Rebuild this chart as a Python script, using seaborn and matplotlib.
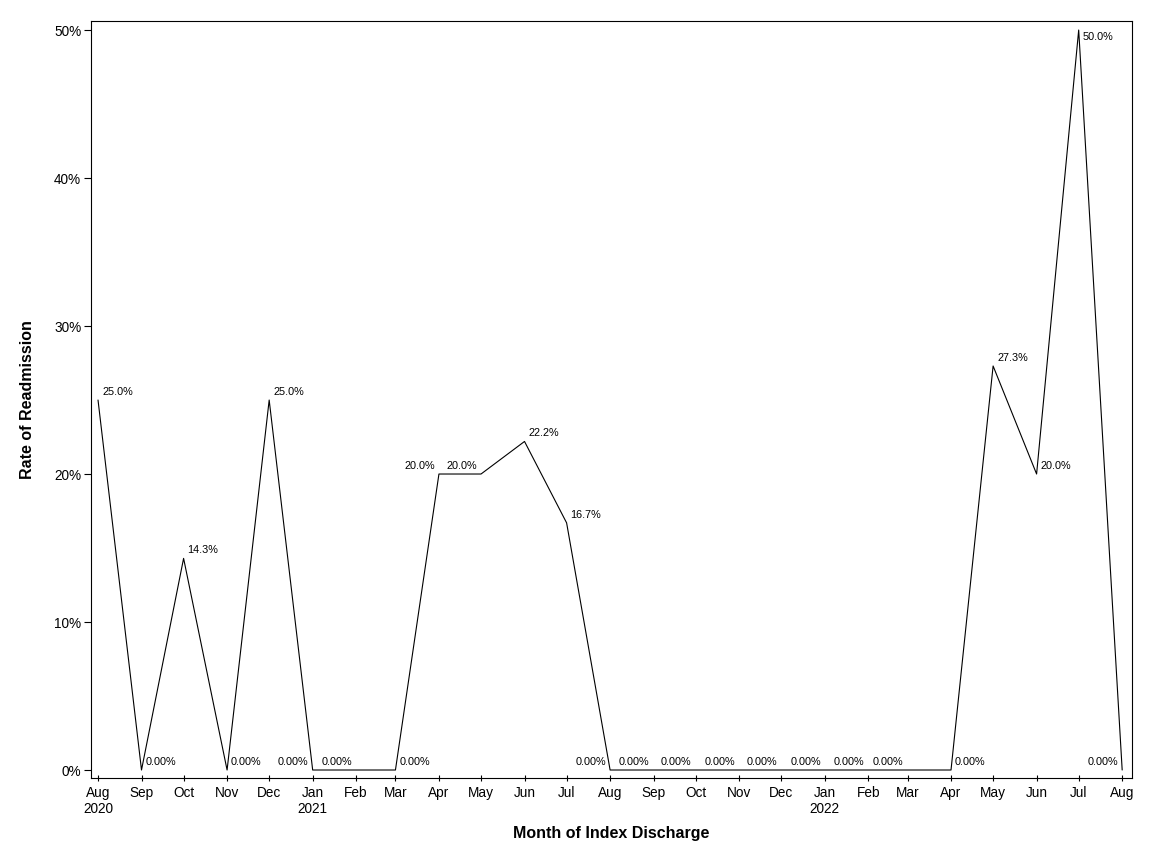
import matplotlib
matplotlib.use("Agg")
import matplotlib.pyplot as plt
import matplotlib.ticker as mticker
import seaborn as sns
import pandas as pd

# month of index discharge, Aug 2020 .. Aug 2022
months = pd.date_range("2020-08-01", "2022-08-01", freq="MS")
rates = [25.0, 0.0, 14.3, 0.0, 25.0, 0.0, 0.0, 0.0, 20.0, 20.0, 22.2, 16.7, 0.0,
         0.0, 0.0, 0.0, 0.0, 0.0, 0.0, 0.0, 0.0, 27.3, 20.0, 50.0, 0.0]
point_labels = ["25.0%", "0.00%", "14.3%", "0.00%", "25.0%", "0.00%", "0.00%", "0.00%",
                "20.0%", "20.0%", "22.2%", "16.7%", "0.00%", "0.00%", "0.00%", "0.00%",
                "0.00%", "0.00%", "0.00%", "0.00%", "0.00%", "27.3%", "20.0%", "50.0%", "0.00%"]
# which side of the point the label sits on (SAS collision avoidance)
label_side = ["r", "r", "r", "r", "r", "l", "l", "r", "l", "l", "r", "r", "l",
              "l", "l", "l", "l", "l", "l", "l", "r", "r", "r", "r", "l"]

df = pd.DataFrame({"month": months, "rate": rates})

sns.set_theme(style="white")
plt.rcParams["font.family"] = ["Liberation Sans", "DejaVu Sans"]
plt.rcParams["text.color"] = "black"
plt.rcParams["axes.labelcolor"] = "black"
plt.rcParams["xtick.color"] = "black"
plt.rcParams["ytick.color"] = "black"

fig = plt.figure(figsize=(11.52, 8.64), dpi=100)
ax = fig.add_axes([91 / 1152, 1 - 778 / 864, (1132 - 91) / 1152, (778 - 21) / 864])

sns.lineplot(data=df, x="month", y="rate", color="black", linewidth=0.8, ax=ax)

for m, r, lab, side in zip(months, rates, point_labels, label_side):
    dx = 4 if side == "r" else -4
    dy = 8 if r < 45 else -7
    ax.annotate(lab, (m, r), xytext=(dx * 0.72, dy * 0.72), textcoords="offset points",
                ha="left" if side == "r" else "right", va="center", fontsize=7.8,
                color="black")

ax.set_xlim(pd.Timestamp("2020-07-27"), pd.Timestamp("2022-08-08"))
ax.set_ylim(-0.54, 50.61)

tick_labels = []
for m in months:
    if m == months[0] or m.month == 1:
        tick_labels.append(f"{m:%b}\n{m.year}")
    else:
        tick_labels.append(f"{m:%b}")
ax.set_xticks(months)
ax.set_xticklabels(tick_labels, fontsize=9.8, linespacing=1.2)

ax.set_yticks([0, 10, 20, 30, 40, 50])
ax.yaxis.set_major_formatter(mticker.FuncFormatter(lambda v, p: f"{v:.0f}%"))
ax.tick_params(axis="y", labelsize=9.8, direction="out", length=5, width=0.8,
               left=True, pad=2, colors="black")
ax.tick_params(axis="x", direction="inout", length=4.5, width=0.8, bottom=True, pad=3.5,
               colors="black")

for s in ax.spines.values():
    s.set_color("black")
    s.set_linewidth(0.8)

ax.set_xlabel("Month of Index Discharge", fontsize=11.5, fontweight="bold", labelpad=7)
ax.set_ylabel("Rate of Readmission", fontsize=11.5, fontweight="bold", labelpad=14)

fig.savefig("out.png", dpi=100)
